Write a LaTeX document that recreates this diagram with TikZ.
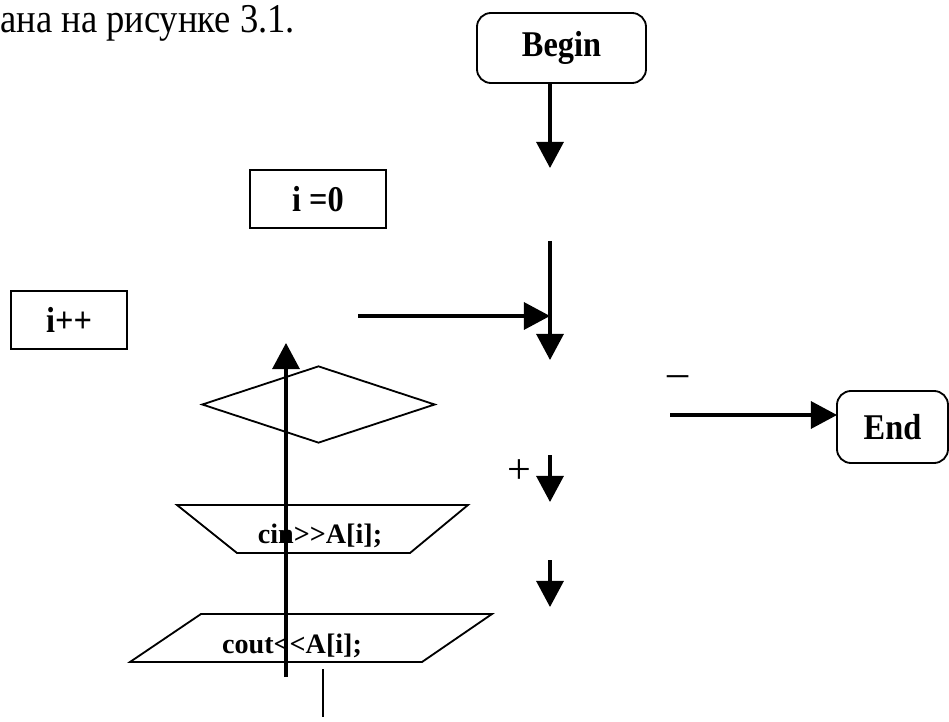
\documentclass[tikz,border=0pt]{standalone}
\usepackage{fontspec}
\setmainfont{Liberation Serif}
\usetikzlibrary{arrows.meta, shapes.geometric}

\newcommand{\tallText}[1]{\scalebox{1}[1.12]{#1}}

\begin{document}
\begin{tikzpicture}[x = 0.025cm, y = -0.025cm,
	arr/.style = {line width = 2.2pt, -{Triangle[length = 0.65cm, width = 0.675cm]}},
	box/.style = {draw, line width = 1.3pt, inner sep = 0pt},
	lbl/.style = {font = \bfseries\fontsize{23}{27}\selectfont},
	io/.style = {font = \bfseries\fontsize{20}{24}\selectfont, inner sep = 0pt},
	sign/.style = {font = \fontsize{30}{34}\selectfont, inner sep = 0pt}]

\useasboundingbox (0, 0) rectangle (949, 722);

\node[anchor = base west, inner sep = 0pt, font = \fontsize{26}{31}\selectfont] (caption) at (0, 33) {\tallText{ана на рисунке 3.1.}};

% terminals and boxes
\node[box, lbl, rounded corners = 0.35cm, minimum width = 4.225cm, minimum height = 1.75cm] (begin) at (561.5, 48) {\tallText{Begin}};
\node[box, lbl, rounded corners = 0.35cm, minimum width = 2.775cm, minimum height = 1.8cm] (end) at (892.5, 427) {\tallText{End}};
\node[box, lbl, minimum width = 3.4cm, minimum height = 1.45cm] (init) at (318, 199) {\tallText{i =0}};
\node[box, lbl, minimum width = 2.9cm, minimum height = 1.45cm] (incr) at (69, 320) {\tallText{i++}};
\node[box, diamond, minimum width = 5.825cm, minimum height = 1.925cm] (cond) at (318.5, 404.5) {};

% input and output
\draw[line width = 1.3pt] (177, 505) -- (468, 505) -- (410, 553) -- (237, 553) -- cycle;
\node[io, anchor = base] (cin) at (320, 543) {cin{>}{>}A[i];};
\draw[line width = 1.3pt] (201, 614) -- (492, 614) -- (422, 662) -- (130, 662) -- cycle;
\node[io, anchor = base] (cout) at (292, 653) {cout{<}{<}A[i];};

\node[sign] (minus) at (678, 381) {–};
\node[sign] (plus) at (519, 472) {+};

% loose connectors
\coordinate (b1) at (550, 168);
\coordinate (a2) at (550, 241);
\coordinate (b2) at (550, 360);
\coordinate (a3) at (358, 316);
\coordinate (b3) at (550, 316);
\coordinate (a4) at (286, 677);
\coordinate (b4) at (286, 343);
\coordinate (a5) at (670, 415);
\coordinate (b5) at (837, 415);
\coordinate (a6) at (550, 455);
\coordinate (b6) at (550, 502);
\coordinate (a7) at (550, 560);
\coordinate (b7) at (550, 607);
\coordinate (a8) at (323, 669);
\coordinate (b8) at (323, 717);

\draw[arr] (begin.south -| b1) -- (b1);
\foreach \n in {2, ..., 7} {
	\draw[arr] (a\n) -- (b\n);
}
\draw[line width = 1.3pt] (a8) -- (b8);

\end{tikzpicture}
\end{document}
